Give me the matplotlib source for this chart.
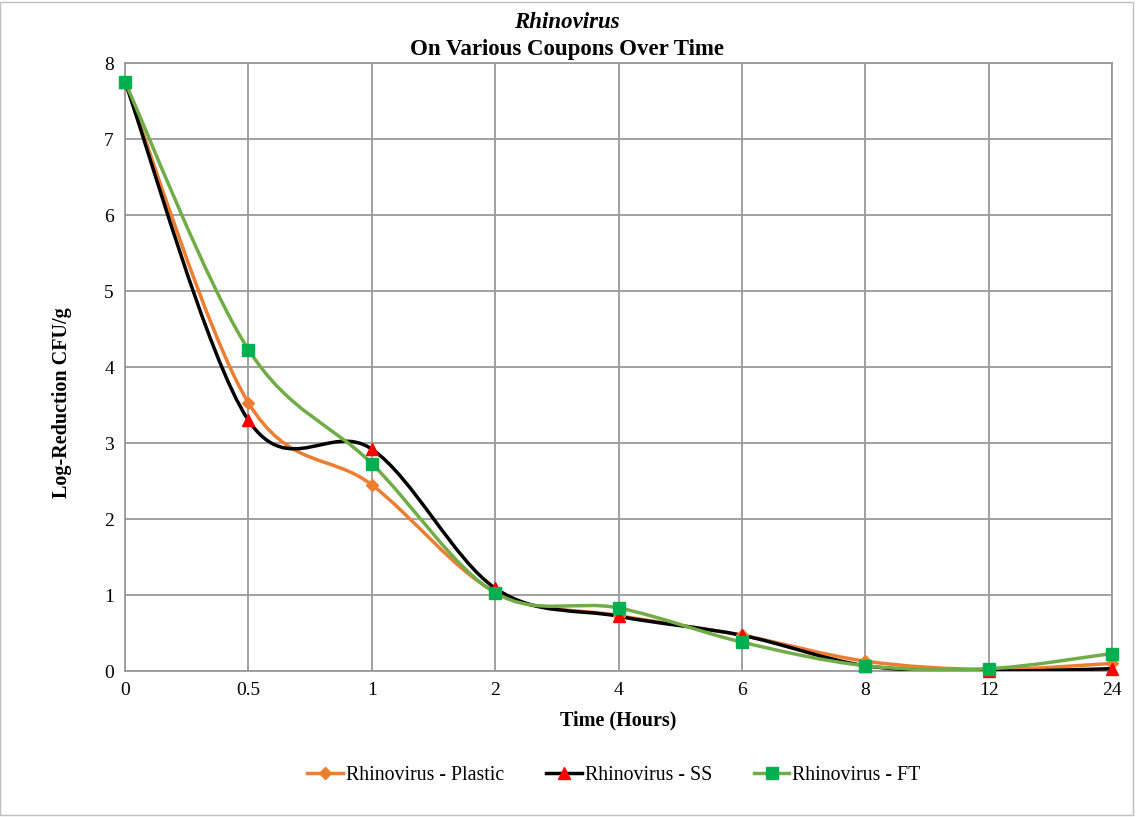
import matplotlib
matplotlib.use("Agg")
import matplotlib.pyplot as plt
import numpy as np
from matplotlib.path import Path
from matplotlib.patches import PathPatch, Rectangle

plt.rcParams['font.family'] = ['Liberation Serif', 'DejaVu Serif']

# data
time_labels = ['0', '0.5', '1', '2', '4', '6', '8', '12', '24']
plastic = [7.75, 3.53, 2.45, 1.04, 0.73, 0.47, 0.13, 0.02, 0.10]
ss = [7.75, 3.30, 2.92, 1.09, 0.72, 0.47, 0.07, 0.00, 0.03]
ft = [7.75, 4.23, 2.73, 1.03, 0.83, 0.38, 0.07, 0.03, 0.23]


def smooth_path(x, y):
    # excel-style smoothed line: bezier from catmull-rom tangents
    pts = np.column_stack([x, y]).astype(float)
    n = len(pts)
    verts = [pts[0]]
    codes = [Path.MOVETO]
    for i in range(n - 1):
        p0 = pts[i - 1] if i > 0 else pts[i]
        p1 = pts[i]
        p2 = pts[i + 1]
        p3 = pts[i + 2] if i + 2 < n else pts[i + 1]
        c1 = p1 + (p2 - p0) / 6.0
        c2 = p2 - (p3 - p1) / 6.0
        verts += [c1, c2, p2]
        codes += [Path.CURVE4] * 3
    return Path(verts, codes)


fig = plt.figure(figsize=(11.36, 8.17), dpi=100)
ax = fig.add_axes([125 / 1136, 1 - 671 / 817, (1112 - 125) / 1136, (671 - 63) / 817])

xs = np.arange(len(time_labels))
series = [
    (plastic, '#ED7D31', 'D', '#ED7D31', 6, 'Rhinovirus - Plastic'),
    (ss, '#000000', '^', '#FF0000', 8, 'Rhinovirus - SS'),
    (ft, '#70AD47', 's', '#00B050', 8, 'Rhinovirus - FT'),
]
handles = []
for vals, lc, mk, mc, ms, lab in series:
    patch = PathPatch(smooth_path(xs, vals), facecolor='none', edgecolor=lc, lw=2.5, zorder=3)
    ax.add_patch(patch)
    ax.plot(xs, vals, linestyle='none', marker=mk, color=mc, markersize=ms, zorder=4,
            clip_on=False)
    h, = ax.plot([], [], color=lc, lw=2.5, marker=mk, markerfacecolor=mc,
                 markeredgecolor=mc, markersize=ms, label=lab)
    handles.append(h)

ax.set_xlim(0, len(time_labels) - 1)
ax.set_ylim(0, 8)
ax.set_xticks(xs)
ax.set_xticklabels(time_labels)
ax.set_yticks(np.arange(0, 9, 1))
ax.grid(True, color='#9A9A9A', lw=1.3)
ax.set_axisbelow(True)
for s in ax.spines.values():
    s.set_color('#9A9A9A')
    s.set_linewidth(1.3)
ax.tick_params(length=0, labelsize=14, pad=8)

ax.set_xlabel('Time (Hours)', fontsize=14.5, fontweight='bold', labelpad=8)
ax.set_ylabel('Log-Reduction CFU/g', fontsize=14.5, fontweight='bold')
ax.yaxis.set_label_coords(-0.054, 0.442)

fig.text(567 / 1136, 1 - 23 / 817, 'Rhinovirus', ha='center', va='center',
         fontsize=16.5, fontweight='bold', style='italic')
fig.text(567 / 1136, 1 - 49 / 817, 'On Various Coupons Over Time', ha='center', va='center',
         fontsize=16.5, fontweight='bold')

fig.legend(handles=handles, loc='center', bbox_to_anchor=(614 / 1136, 1 - 775 / 817),
           ncol=3, frameon=False, fontsize=14.3, handlelength=1.8, columnspacing=2.1,
           handletextpad=0.15)

fig.patches.append(Rectangle((0, 0.002), 0.997, 0.996, transform=fig.transFigure,
                             fill=False, edgecolor='#BFBFBF', lw=1))

fig.savefig('out.png', dpi=100)
